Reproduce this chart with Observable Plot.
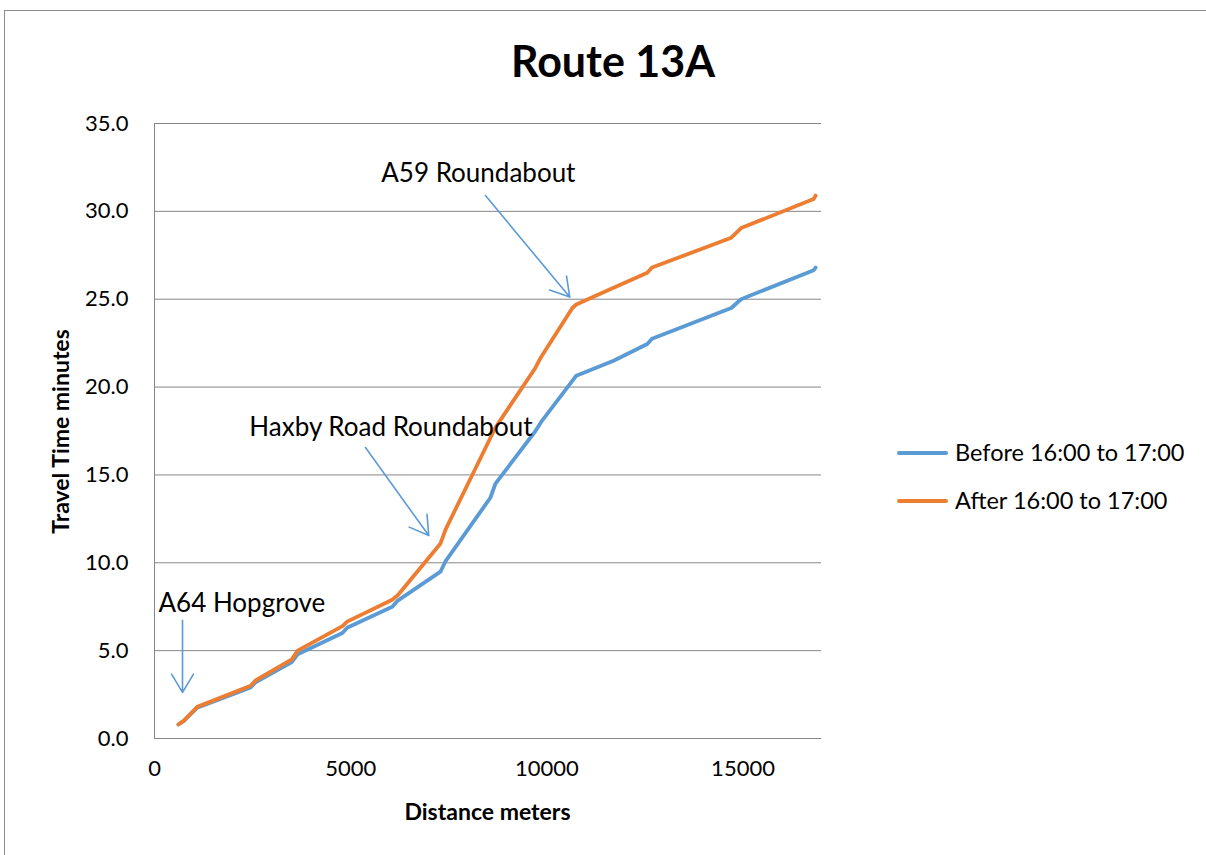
<!DOCTYPE html>
<html>
<head>
<meta charset="utf-8">
<script src="https://cdn.jsdelivr.net/npm/d3@7"></script>
<script src="https://cdn.jsdelivr.net/npm/@observablehq/plot@0.6"></script>
<style>
  html, body { margin: 0; padding: 0; background: #fff; overflow: hidden; }
  #wrap { position: relative; width: 1206px; height: 855px; font-family: Lato, "Noto Sans", sans-serif; color: #000; }
  #frame { position: absolute; left: 4px; top: 10px; width: 1400px; height: 1000px; border: 1px solid #8c8c8c; box-sizing: border-box; }
  #chart { position: absolute; left: 0; top: 0; }
  .t { position: absolute; white-space: nowrap; line-height: 1; }
  #title { left: 0; width: 1226px; text-align: center; top: 39px; font-size: 43px; font-weight: bold; }
  #xlab { left: 154px; width: 667px; text-align: center; top: 800px; font-size: 23px; font-weight: bold; }
  #ylab { left: -140px; width: 400px; text-align: center; top: 420px; font-size: 23px; font-weight: bold; transform: rotate(-90deg); }
  .leg { position: absolute; left: 897px; height: 0; }
  .sw { position: absolute; left: 0; width: 51px; height: 4px; border-radius: 2px; }
  .lt { position: absolute; left: 58px; font-size: 23.5px; line-height: 1; white-space: nowrap; top: -12px; }
</style>
</head>
<body>
<div id="wrap">
  <div id="frame"></div>
  <div id="chart"></div>
  <div class="t" id="title">Route 13A</div>
  <div class="t" id="xlab">Distance meters</div>
  <div class="t" id="ylab">Travel Time minutes</div>
  <div id="legend"></div>
</div>
<script>
// Distances (m) and travel times (minutes)
const distance = [610, 750, 1090, 2450, 2575, 3500, 3650, 4790, 4910, 6060, 6200, 7290, 7420, 8560, 8690, 9710, 9850, 10650, 10750, 11700, 12560, 12680, 14700, 14950, 16800, 16850];
const before   = [0.8, 1.0, 1.75, 2.9, 3.2, 4.35, 4.8, 6.0, 6.3, 7.5, 7.85, 9.5, 10.1, 13.7, 14.5, 17.5, 18.0, 20.35, 20.65, 21.5, 22.45, 22.75, 24.5, 25.0, 26.65, 26.8];
const after    = [0.8, 1.02, 1.8, 3.0, 3.3, 4.5, 5.0, 6.4, 6.65, 7.9, 8.15, 11.1, 11.9, 17.1, 17.7, 21.1, 21.7, 24.5, 24.7, 25.65, 26.5, 26.8, 28.5, 29.05, 30.7, 30.9];

const seriesNames = ["Before 16:00 to 17:00", "After 16:00 to 17:00"];
const seriesColors = ["#5B9BD5", "#ED7D31"];

const xTicks = [0, 5000, 10000, 15000];
const yTicks = [0, 5, 10, 15, 20, 25, 30, 35];

// Annotations (data coordinates)
const annLabels = ["A64 Hopgrove", "Haxby Road Roundabout", "A59 Roundabout"];
const annX = [102, 9633, 10729];
const annY = [7.68, 17.7, 32.16];
const annAnchor = ["start", "end", "end"];
const arrX1 = [714, 5377, 8435];
const arrY1 = [6.72, 16.56, 30.9];
const arrX2 = [714, 6990, 10584];
const arrY2 = [2.62, 11.55, 25.12];

const rows = [];
[before, after].forEach((vals, si) => {
  vals.forEach((v, i) => rows.push({series: seriesNames[si], d: distance[i], t: v}));
});
const ann = annLabels.map((l, i) => ({label: l, x: annX[i], y: annY[i], anchor: annAnchor[i]}));
const arrows = arrX1.map((_, i) => ({x1: arrX1[i], y1: arrY1[i], x2: arrX2[i], y2: arrY2[i]}));

const chart = Plot.plot({
  width: 1206,
  height: 855,
  marginLeft: 154,
  marginRight: 385,
  marginTop: 123,
  marginBottom: 117,
  style: {fontFamily: "Lato, 'Noto Sans', sans-serif", fontSize: "22px", color: "#000", background: "transparent", overflow: "visible"},
  x: {domain: [0, 17000]},
  y: {domain: [0, 35]},
  color: {domain: seriesNames, range: seriesColors},
  marks: [
    Plot.gridY(yTicks, {stroke: "#868686", strokeOpacity: 1, strokeWidth: 1}),
    Plot.ruleX([0], {stroke: "#868686", strokeWidth: 1}),
    Plot.axisY(yTicks, {tickSize: 0, tickPadding: 26, tickFormat: d => d.toFixed(1), fontSize: 22, label: null}),
    Plot.axisX(xTicks, {tickSize: 0, tickPadding: 22, tickFormat: d => String(d), fontSize: 22, label: null}),
    Plot.line(rows, {x: "d", y: "t", z: "series", stroke: "series", strokeWidth: 3.8, strokeLinejoin: "round", strokeLinecap: "round"}),
    Plot.arrow(arrows, {x1: "x1", y1: "y1", x2: "x2", y2: "y2", stroke: "#5B9BD5", strokeWidth: 1.6, headLength: 20, headAngle: 62}),
    Plot.text(ann.filter(a => a.anchor === "start"), {x: "x", y: "y", text: "label", textAnchor: "start", fontSize: 26, fill: "#000"}),
    Plot.text(ann.filter(a => a.anchor === "end"), {x: "x", y: "y", text: "label", textAnchor: "end", fontSize: 26, fill: "#000"})
  ]
});
document.getElementById("chart").appendChild(chart);

// Legend
const legendY = [453, 501];
const legend = document.getElementById("legend");
seriesNames.forEach((name, i) => {
  const g = document.createElement("div");
  g.className = "leg";
  g.style.top = legendY[i] + "px";
  const sw = document.createElement("div");
  sw.className = "sw";
  sw.style.background = seriesColors[i];
  sw.style.top = "-2px";
  const lt = document.createElement("div");
  lt.className = "lt";
  lt.textContent = name;
  g.appendChild(sw);
  g.appendChild(lt);
  legend.appendChild(g);
});
</script>
</body>
</html>
